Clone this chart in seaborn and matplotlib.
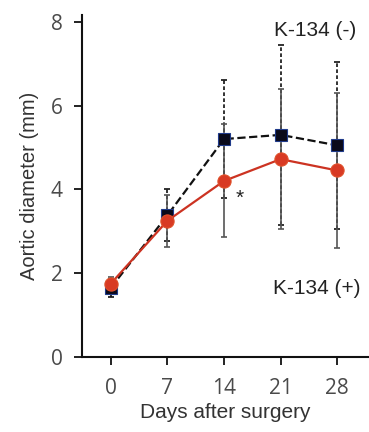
import matplotlib
matplotlib.use("Agg")
import matplotlib.pyplot as plt
import numpy as np
import pandas as pd
import seaborn as sns

sns.set_theme(style="ticks")
plt.rcParams['font.family'] = ['Liberation Sans', 'DejaVu Sans']

# data
days = [0, 7, 14, 21, 28]
minus_mean = [1.65, 3.38, 5.20, 5.30, 5.05]
minus_sd = [0.22, 0.62, 1.40, 2.15, 2.00]
plus_mean = [1.75, 3.25, 4.20, 4.72, 4.45]
plus_sd = [0.15, 0.62, 1.35, 1.67, 1.85]
y_ticks = [0, 2, 4, 6, 8]

df = pd.DataFrame({
    "day": days * 2,
    "diameter": minus_mean + plus_mean,
    "group": ["K-134 (-)"] * 5 + ["K-134 (+)"] * 5,
})

fig = plt.figure(figsize=(3.69, 4.32), dpi=100)
ax = fig.add_axes([0.222, 0.174, 0.775, 0.792])

# error bars first (drawn underneath)
eb = ax.errorbar(days, minus_mean, yerr=minus_sd, fmt="none", ecolor="#111111",
                 elinewidth=1.2, capsize=2.2, capthick=1.2, zorder=1)
eb[2][0].set_linestyle((0, (2.2, 1.4)))
ax.errorbar(days, plus_mean, yerr=plus_sd, fmt="none", ecolor="#555555",
            elinewidth=1.2, capsize=2.2, capthick=1.2, zorder=1)

sns.lineplot(data=df[df.group == "K-134 (-)"], x="day", y="diameter", ax=ax,
             color="#111111", linestyle="--", linewidth=1.6, marker="s",
             markersize=8.5, markerfacecolor="#0a0a1a", markeredgecolor="#1f3a8a",
             markeredgewidth=0.8, zorder=3)
sns.lineplot(data=df[df.group == "K-134 (+)"], x="day", y="diameter", ax=ax,
             color="#cc3322", linewidth=1.6, marker="o", markersize=9.5,
             markerfacecolor="#d83a24", markeredgecolor="#e0502a",
             markeredgewidth=0.8, zorder=4)

ax.set_xlim(-3.58, 31.8)
ax.set_ylim(0, 8.17)
ax.set_xticks(days)
ax.set_yticks(y_ticks)
ax.tick_params(axis="both", labelsize=15, labelcolor="#4a4a4a", length=6,
               width=1.3, direction="out", color="#111111")
ax.tick_params(axis="x", pad=9)
ax.tick_params(axis="y", pad=8)
for lab in ax.get_xticklabels() + ax.get_yticklabels():
    lab.set_family(["Open Sans", "DejaVu Sans"])
for s in ["left", "bottom"]:
    ax.spines[s].set_linewidth(1.5)
    ax.spines[s].set_color("#111111")
for s in ["top", "right"]:
    ax.spines[s].set_visible(False)

ax.set_xlabel("Days after surgery", fontsize=15, color="#333333", labelpad=3)
ax.set_ylabel("Aortic diameter (mm)", fontsize=14.5, color="#333333", labelpad=8)

ax.text(25.3, 7.8, "K-134 (-)", fontsize=15, color="#222222", ha="center", va="center")
ax.text(25.5, 1.63, "K-134 (+)", fontsize=15, color="#222222", ha="center", va="center")
ax.text(15.9, 3.78, "*", fontsize=15, color="#222222", ha="center", va="center")

fig.savefig("out.png", dpi=100)
